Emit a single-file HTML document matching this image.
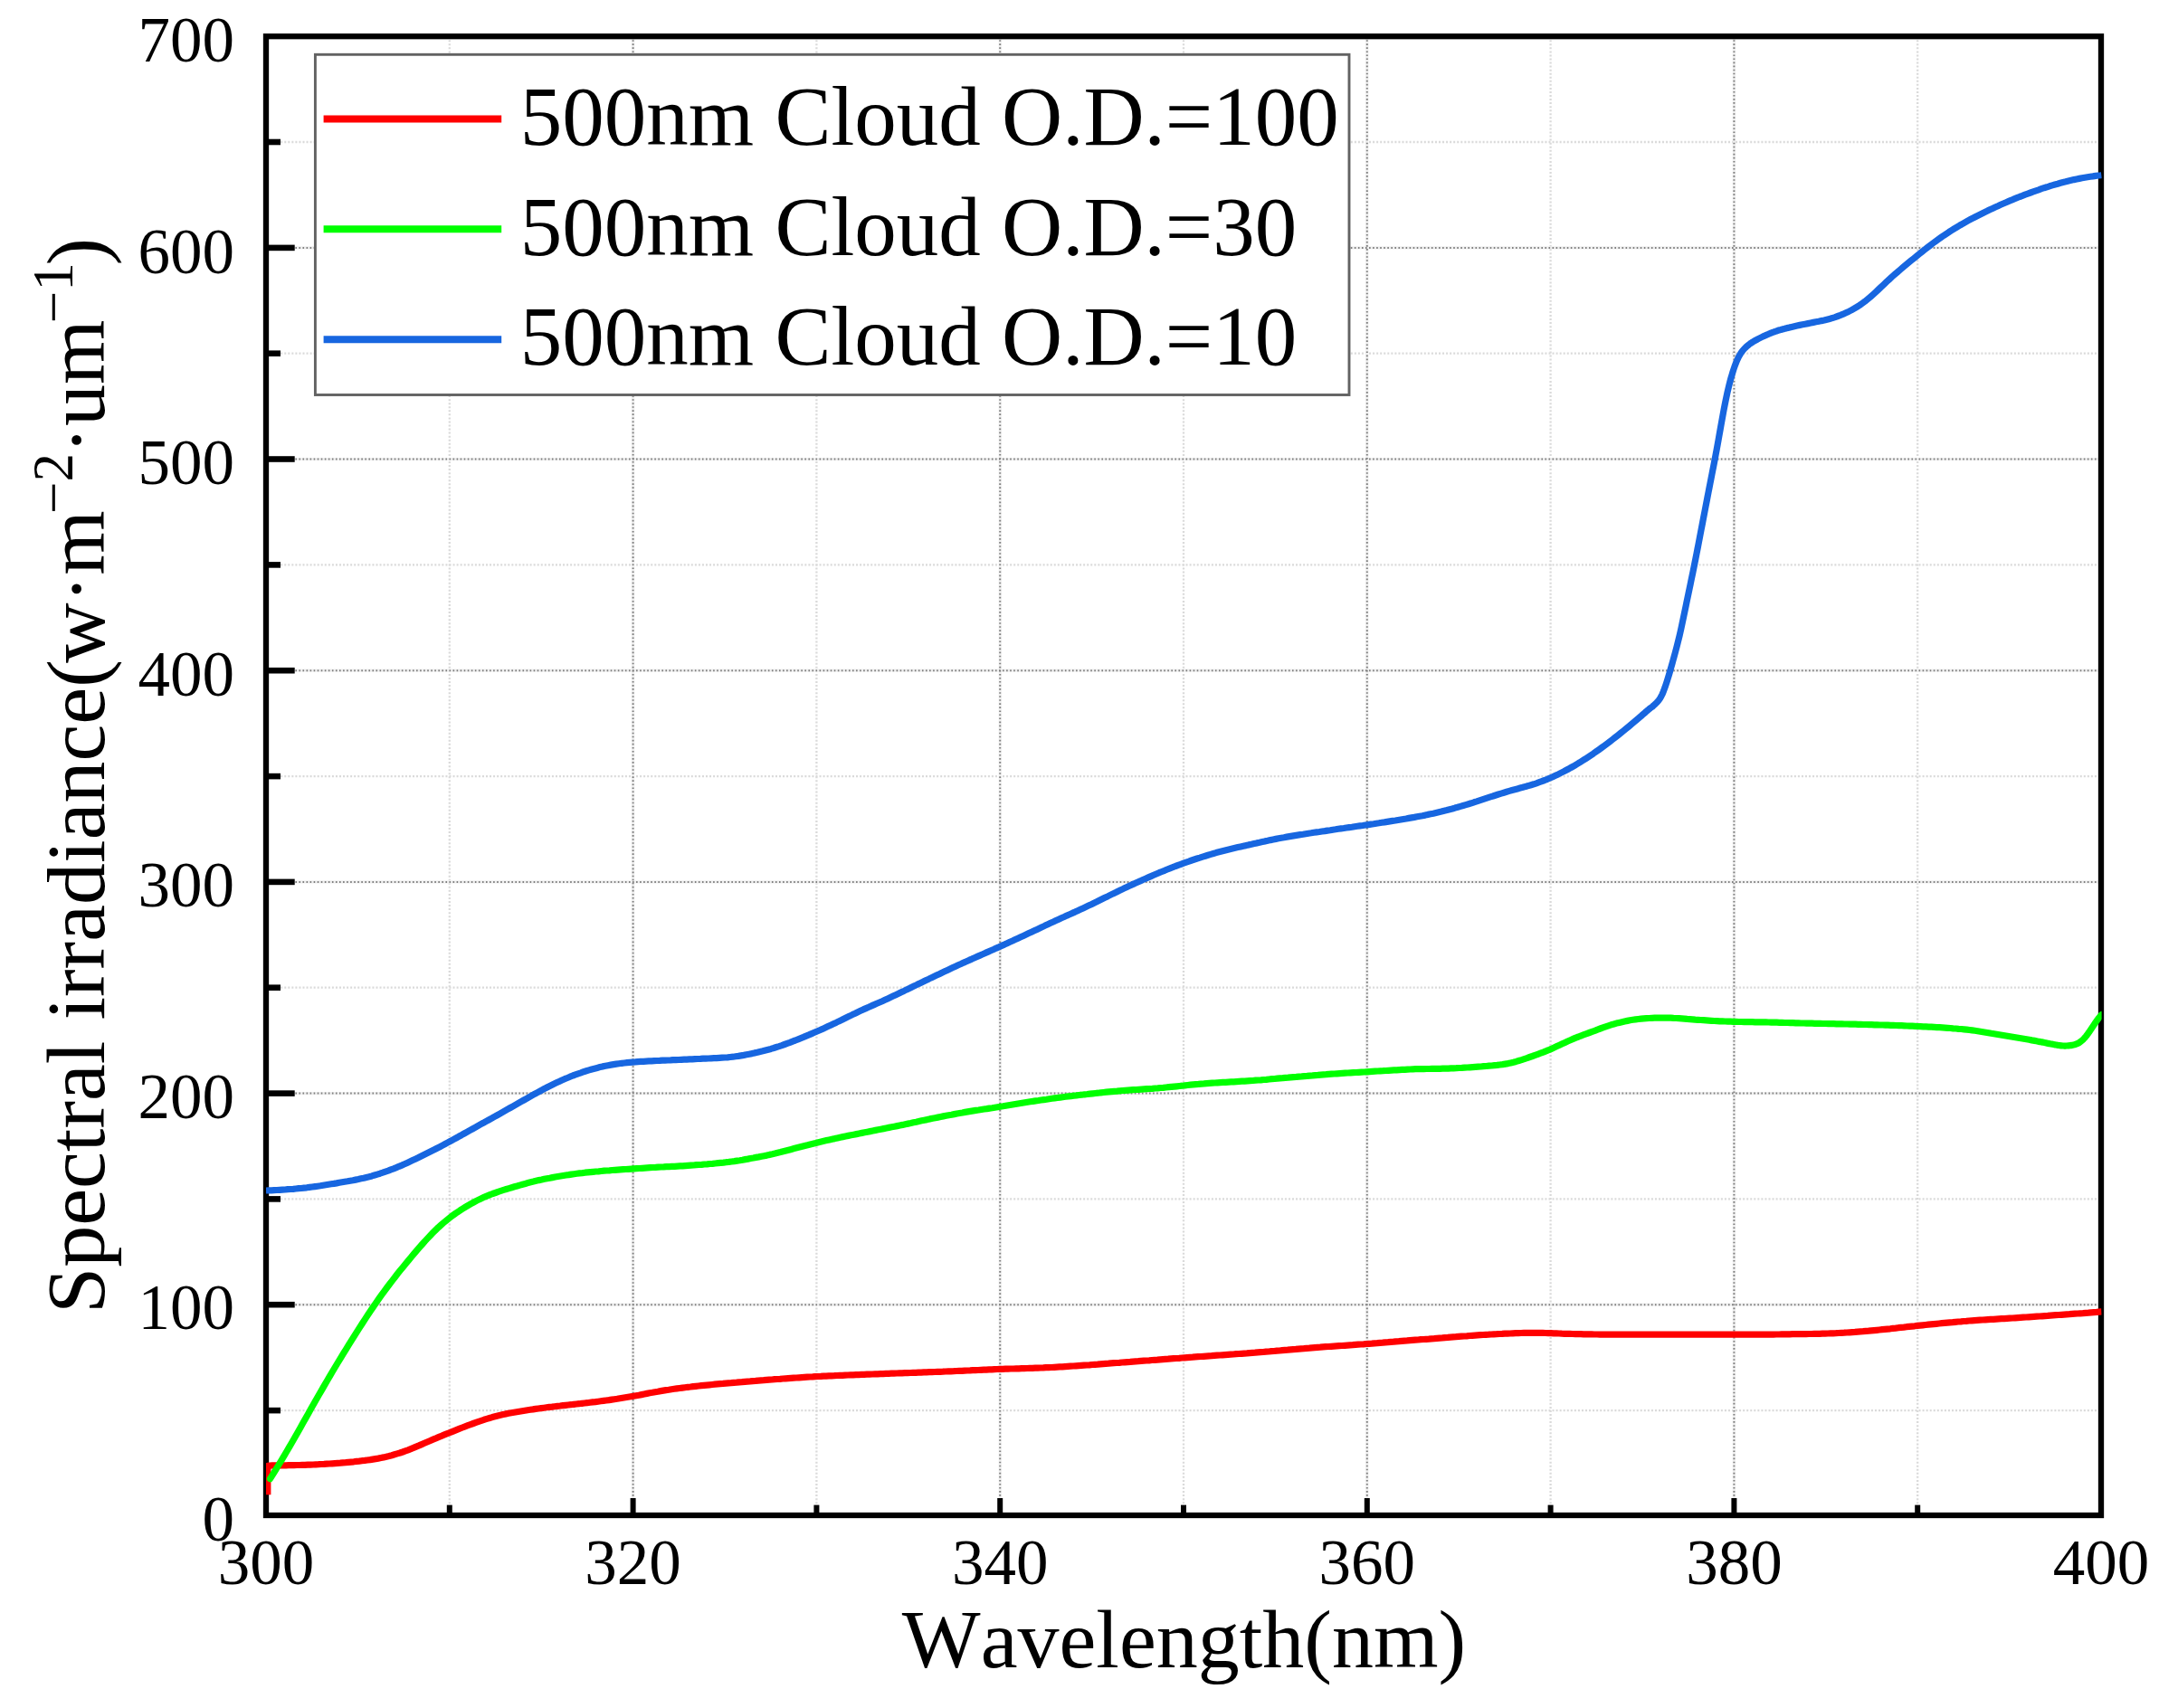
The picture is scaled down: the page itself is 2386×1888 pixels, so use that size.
<!DOCTYPE html>
<html lang="en"><head><meta charset="utf-8"><title>Spectral irradiance vs wavelength</title>
<style>html,body{margin:0;padding:0;background:#fff}svg{display:block}text{font-kerning:none;font-family:"Liberation Serif",serif;fill:#000}</style></head><body>
<svg width="2386" height="1888" viewBox="0 0 2386 1888">
<rect width="2386" height="1888" fill="#fff"/>
<g fill="none">
<g stroke="#dadada" stroke-width="2.3" stroke-dasharray="2 2.05">
<line x1="496.8" y1="40.2" x2="496.8" y2="1675.0"/>
<line x1="902.4" y1="40.2" x2="902.4" y2="1675.0"/>
<line x1="1308.0" y1="40.2" x2="1308.0" y2="1675.0"/>
<line x1="1713.6" y1="40.2" x2="1713.6" y2="1675.0"/>
<line x1="2119.2" y1="40.2" x2="2119.2" y2="1675.0"/>
<line x1="294.0" y1="1559.1" x2="2322.0" y2="1559.1"/>
<line x1="294.0" y1="1325.4" x2="2322.0" y2="1325.4"/>
<line x1="294.0" y1="1091.7" x2="2322.0" y2="1091.7"/>
<line x1="294.0" y1="858.1" x2="2322.0" y2="858.1"/>
<line x1="294.0" y1="624.4" x2="2322.0" y2="624.4"/>
<line x1="294.0" y1="390.7" x2="2322.0" y2="390.7"/>
<line x1="294.0" y1="157.0" x2="2322.0" y2="157.0"/>
</g>
<g stroke="#efefef" stroke-width="3.2">
<line x1="699.6" y1="40.2" x2="699.6" y2="1675.0"/>
<line x1="1105.2" y1="40.2" x2="1105.2" y2="1675.0"/>
<line x1="1510.8" y1="40.2" x2="1510.8" y2="1675.0"/>
<line x1="1916.4" y1="40.2" x2="1916.4" y2="1675.0"/>
<line x1="294.0" y1="1442.2" x2="2322.0" y2="1442.2"/>
<line x1="294.0" y1="1208.6" x2="2322.0" y2="1208.6"/>
<line x1="294.0" y1="974.9" x2="2322.0" y2="974.9"/>
<line x1="294.0" y1="741.2" x2="2322.0" y2="741.2"/>
<line x1="294.0" y1="507.5" x2="2322.0" y2="507.5"/>
<line x1="294.0" y1="273.9" x2="2322.0" y2="273.9"/>
</g>
<g stroke="#808080" stroke-width="2" stroke-dasharray="1.6 2.45">
<line x1="699.6" y1="40.2" x2="699.6" y2="1675.0"/>
<line x1="1105.2" y1="40.2" x2="1105.2" y2="1675.0"/>
<line x1="1510.8" y1="40.2" x2="1510.8" y2="1675.0"/>
<line x1="1916.4" y1="40.2" x2="1916.4" y2="1675.0"/>
<line x1="294.0" y1="1442.2" x2="2322.0" y2="1442.2"/>
<line x1="294.0" y1="1208.6" x2="2322.0" y2="1208.6"/>
<line x1="294.0" y1="974.9" x2="2322.0" y2="974.9"/>
<line x1="294.0" y1="741.2" x2="2322.0" y2="741.2"/>
<line x1="294.0" y1="507.5" x2="2322.0" y2="507.5"/>
<line x1="294.0" y1="273.9" x2="2322.0" y2="273.9"/>
</g></g>
<g stroke="#000" fill="none">
<rect x="294.0" y="40.2" width="2028.0" height="1634.8" stroke-width="6.3"/>
<g stroke-width="6.6">
<line x1="294.0" y1="1559.1" x2="310.0" y2="1559.1"/>
<line x1="294.0" y1="1442.2" x2="325.7" y2="1442.2"/>
<line x1="294.0" y1="1325.4" x2="310.0" y2="1325.4"/>
<line x1="294.0" y1="1208.6" x2="325.7" y2="1208.6"/>
<line x1="294.0" y1="1091.7" x2="310.0" y2="1091.7"/>
<line x1="294.0" y1="974.9" x2="325.7" y2="974.9"/>
<line x1="294.0" y1="858.1" x2="310.0" y2="858.1"/>
<line x1="294.0" y1="741.2" x2="325.7" y2="741.2"/>
<line x1="294.0" y1="624.4" x2="310.0" y2="624.4"/>
<line x1="294.0" y1="507.5" x2="325.7" y2="507.5"/>
<line x1="294.0" y1="390.7" x2="310.0" y2="390.7"/>
<line x1="294.0" y1="273.9" x2="325.7" y2="273.9"/>
<line x1="294.0" y1="157.0" x2="310.0" y2="157.0"/>
</g><g stroke-width="6">
<line x1="496.8" y1="1675.0" x2="496.8" y2="1663.6"/>
<line x1="699.6" y1="1675.0" x2="699.6" y2="1656.0"/>
<line x1="902.4" y1="1675.0" x2="902.4" y2="1663.6"/>
<line x1="1105.2" y1="1675.0" x2="1105.2" y2="1656.0"/>
<line x1="1308.0" y1="1675.0" x2="1308.0" y2="1663.6"/>
<line x1="1510.8" y1="1675.0" x2="1510.8" y2="1656.0"/>
<line x1="1713.6" y1="1675.0" x2="1713.6" y2="1663.6"/>
<line x1="1916.4" y1="1675.0" x2="1916.4" y2="1656.0"/>
<line x1="2119.2" y1="1675.0" x2="2119.2" y2="1663.6"/>
</g></g>
<clipPath id="plot"><rect x="294" y="30" width="2028.6" height="1650"/></clipPath>
<g fill="none" stroke-width="7.2" stroke-linejoin="round" stroke-linecap="butt" clip-path="url(#plot)">
<path d="M295.8 1652.2 L295.8 1620.4 L301.0 1619.8 L304.0 1619.8 L307.0 1619.8 L310.0 1619.8 L313.0 1619.8 L316.0 1619.8 L319.0 1619.7 L322.0 1619.7 L325.0 1619.6 L328.0 1619.5 L331.0 1619.5 L334.0 1619.4 L337.0 1619.3 L340.0 1619.2 L343.0 1619.1 L346.0 1619.0 L349.0 1618.8 L352.0 1618.7 L355.0 1618.5 L358.0 1618.4 L361.0 1618.2 L364.0 1618.0 L367.0 1617.8 L370.0 1617.6 L373.0 1617.4 L376.0 1617.2 L379.0 1616.9 L382.0 1616.7 L385.0 1616.4 L388.0 1616.1 L391.0 1615.8 L394.0 1615.4 L397.0 1615.1 L400.0 1614.7 L403.0 1614.4 L406.0 1614.0 L409.0 1613.6 L412.0 1613.1 L415.0 1612.6 L418.0 1612.1 L421.0 1611.5 L424.0 1610.9 L427.0 1610.2 L430.0 1609.5 L433.0 1608.7 L436.0 1607.8 L439.0 1606.9 L442.0 1606.0 L445.0 1605.0 L448.0 1603.9 L451.0 1602.8 L454.0 1601.6 L457.0 1600.4 L460.0 1599.1 L463.0 1597.9 L466.0 1596.6 L469.0 1595.3 L472.0 1594.0 L475.0 1592.7 L478.0 1591.4 L481.0 1590.2 L484.0 1588.9 L487.0 1587.7 L490.0 1586.4 L493.0 1585.2 L496.0 1584.0 L499.0 1582.8 L502.0 1581.6 L505.0 1580.4 L508.0 1579.2 L511.0 1578.0 L514.0 1576.8 L517.0 1575.7 L520.0 1574.6 L523.0 1573.5 L526.0 1572.4 L529.0 1571.3 L532.0 1570.3 L535.0 1569.3 L538.0 1568.4 L541.0 1567.5 L544.0 1566.6 L547.0 1565.8 L550.0 1565.0 L553.0 1564.3 L556.0 1563.6 L559.0 1562.9 L562.0 1562.3 L565.0 1561.7 L568.0 1561.2 L571.0 1560.7 L574.0 1560.2 L577.0 1559.7 L580.0 1559.2 L583.0 1558.7 L586.0 1558.3 L589.0 1557.9 L592.0 1557.4 L595.0 1557.0 L598.0 1556.6 L601.0 1556.2 L604.0 1555.8 L607.0 1555.4 L610.0 1555.1 L613.0 1554.7 L616.0 1554.3 L619.0 1554.0 L622.0 1553.6 L625.0 1553.3 L628.0 1553.0 L631.0 1552.7 L634.0 1552.3 L637.0 1552.0 L640.0 1551.7 L643.0 1551.3 L646.0 1551.0 L649.0 1550.7 L652.0 1550.3 L655.0 1549.9 L658.0 1549.6 L661.0 1549.2 L664.0 1548.8 L667.0 1548.4 L670.0 1548.0 L673.0 1547.6 L676.0 1547.1 L679.0 1546.7 L682.0 1546.3 L685.0 1545.8 L688.0 1545.3 L691.0 1544.8 L694.0 1544.3 L697.0 1543.8 L700.0 1543.3 L703.0 1542.7 L706.0 1542.2 L709.0 1541.6 L712.0 1541.0 L715.0 1540.4 L718.0 1539.8 L721.0 1539.3 L724.0 1538.7 L727.0 1538.2 L730.0 1537.6 L733.0 1537.1 L736.0 1536.6 L739.0 1536.2 L742.0 1535.7 L745.0 1535.3 L748.0 1534.9 L751.0 1534.5 L754.0 1534.1 L757.0 1533.7 L760.0 1533.3 L763.0 1533.0 L766.0 1532.6 L769.0 1532.3 L772.0 1532.0 L775.0 1531.7 L778.0 1531.4 L781.0 1531.1 L784.0 1530.8 L787.0 1530.5 L790.0 1530.2 L793.0 1529.9 L796.0 1529.6 L799.0 1529.4 L802.0 1529.1 L805.0 1528.8 L808.0 1528.6 L811.0 1528.3 L814.0 1528.1 L817.0 1527.8 L820.0 1527.6 L823.0 1527.3 L826.0 1527.1 L829.0 1526.9 L832.0 1526.6 L835.0 1526.4 L838.0 1526.1 L841.0 1525.9 L844.0 1525.7 L847.0 1525.4 L850.0 1525.2 L853.0 1525.0 L856.0 1524.7 L859.0 1524.5 L862.0 1524.3 L865.0 1524.0 L868.0 1523.8 L871.0 1523.6 L874.0 1523.4 L877.0 1523.2 L880.0 1523.0 L883.0 1522.8 L886.0 1522.6 L889.0 1522.4 L892.0 1522.2 L895.0 1522.0 L898.0 1521.9 L901.0 1521.7 L904.0 1521.5 L907.0 1521.4 L910.0 1521.2 L913.0 1521.1 L916.0 1520.9 L919.0 1520.8 L922.0 1520.7 L925.0 1520.5 L928.0 1520.4 L931.0 1520.3 L934.0 1520.1 L937.0 1520.0 L940.0 1519.9 L943.0 1519.8 L946.0 1519.7 L949.0 1519.6 L952.0 1519.4 L955.0 1519.3 L958.0 1519.2 L961.0 1519.1 L964.0 1519.0 L967.0 1518.9 L970.0 1518.8 L973.0 1518.7 L976.0 1518.6 L979.0 1518.4 L982.0 1518.3 L985.0 1518.2 L988.0 1518.1 L991.0 1518.0 L994.0 1517.9 L997.0 1517.8 L1000.0 1517.7 L1003.0 1517.6 L1006.0 1517.5 L1009.0 1517.4 L1012.0 1517.3 L1015.0 1517.2 L1018.0 1517.1 L1021.0 1516.9 L1024.0 1516.8 L1027.0 1516.7 L1030.0 1516.6 L1033.0 1516.5 L1036.0 1516.4 L1039.0 1516.3 L1042.0 1516.2 L1045.0 1516.0 L1048.0 1515.9 L1051.0 1515.8 L1054.0 1515.7 L1057.0 1515.5 L1060.0 1515.4 L1063.0 1515.3 L1066.0 1515.1 L1069.0 1515.0 L1072.0 1514.9 L1075.0 1514.7 L1078.0 1514.6 L1081.0 1514.5 L1084.0 1514.3 L1087.0 1514.2 L1090.0 1514.1 L1093.0 1513.9 L1096.0 1513.8 L1099.0 1513.6 L1102.0 1513.5 L1105.0 1513.4 L1108.0 1513.3 L1111.0 1513.2 L1114.0 1513.1 L1117.0 1513.0 L1120.0 1513.0 L1123.0 1512.9 L1126.0 1512.8 L1129.0 1512.7 L1132.0 1512.6 L1135.0 1512.5 L1138.0 1512.4 L1141.0 1512.3 L1144.0 1512.2 L1147.0 1512.1 L1150.0 1512.0 L1153.0 1511.9 L1156.0 1511.7 L1159.0 1511.6 L1162.0 1511.5 L1165.0 1511.3 L1168.0 1511.1 L1171.0 1510.9 L1174.0 1510.8 L1177.0 1510.6 L1180.0 1510.4 L1183.0 1510.2 L1186.0 1510.0 L1189.0 1509.8 L1192.0 1509.6 L1195.0 1509.4 L1198.0 1509.2 L1201.0 1509.0 L1204.0 1508.8 L1207.0 1508.5 L1210.0 1508.3 L1213.0 1508.1 L1216.0 1507.8 L1219.0 1507.6 L1222.0 1507.4 L1225.0 1507.2 L1228.0 1506.9 L1231.0 1506.7 L1234.0 1506.5 L1237.0 1506.3 L1240.0 1506.0 L1243.0 1505.8 L1246.0 1505.6 L1249.0 1505.4 L1252.0 1505.1 L1255.0 1504.9 L1258.0 1504.7 L1261.0 1504.4 L1264.0 1504.2 L1267.0 1504.0 L1270.0 1503.8 L1273.0 1503.5 L1276.0 1503.3 L1279.0 1503.1 L1282.0 1502.8 L1285.0 1502.6 L1288.0 1502.4 L1291.0 1502.2 L1294.0 1501.9 L1297.0 1501.7 L1300.0 1501.5 L1303.0 1501.3 L1306.0 1501.0 L1309.0 1500.8 L1312.0 1500.6 L1315.0 1500.4 L1318.0 1500.2 L1321.0 1499.9 L1324.0 1499.7 L1327.0 1499.5 L1330.0 1499.3 L1333.0 1499.1 L1336.0 1498.9 L1339.0 1498.7 L1342.0 1498.4 L1345.0 1498.2 L1348.0 1498.0 L1351.0 1497.8 L1354.0 1497.6 L1357.0 1497.4 L1360.0 1497.2 L1363.0 1497.0 L1366.0 1496.7 L1369.0 1496.5 L1372.0 1496.3 L1375.0 1496.1 L1378.0 1495.9 L1381.0 1495.6 L1384.0 1495.4 L1387.0 1495.2 L1390.0 1494.9 L1393.0 1494.7 L1396.0 1494.5 L1399.0 1494.2 L1402.0 1494.0 L1405.0 1493.7 L1408.0 1493.5 L1411.0 1493.2 L1414.0 1493.0 L1417.0 1492.7 L1420.0 1492.4 L1423.0 1492.2 L1426.0 1491.9 L1429.0 1491.6 L1432.0 1491.4 L1435.0 1491.1 L1438.0 1490.8 L1441.0 1490.6 L1444.0 1490.3 L1447.0 1490.1 L1450.0 1489.8 L1453.0 1489.6 L1456.0 1489.4 L1459.0 1489.2 L1462.0 1488.9 L1465.0 1488.7 L1468.0 1488.5 L1471.0 1488.3 L1474.0 1488.1 L1477.0 1487.9 L1480.0 1487.7 L1483.0 1487.5 L1486.0 1487.3 L1489.0 1487.1 L1492.0 1486.9 L1495.0 1486.7 L1498.0 1486.4 L1501.0 1486.2 L1504.0 1486.0 L1507.0 1485.8 L1510.0 1485.5 L1513.0 1485.3 L1516.0 1485.1 L1519.0 1484.8 L1522.0 1484.6 L1525.0 1484.3 L1528.0 1484.1 L1531.0 1483.8 L1534.0 1483.6 L1537.0 1483.3 L1540.0 1483.1 L1543.0 1482.8 L1546.0 1482.6 L1549.0 1482.3 L1552.0 1482.1 L1555.0 1481.9 L1558.0 1481.6 L1561.0 1481.4 L1564.0 1481.2 L1567.0 1481.0 L1570.0 1480.7 L1573.0 1480.5 L1576.0 1480.3 L1579.0 1480.1 L1582.0 1479.8 L1585.0 1479.6 L1588.0 1479.3 L1591.0 1479.1 L1594.0 1478.9 L1597.0 1478.6 L1600.0 1478.4 L1603.0 1478.1 L1606.0 1477.9 L1609.0 1477.7 L1612.0 1477.4 L1615.0 1477.2 L1618.0 1477.0 L1621.0 1476.8 L1624.0 1476.5 L1627.0 1476.3 L1630.0 1476.1 L1633.0 1475.9 L1636.0 1475.7 L1639.0 1475.5 L1642.0 1475.3 L1645.0 1475.2 L1648.0 1475.0 L1651.0 1474.8 L1654.0 1474.7 L1657.0 1474.5 L1660.0 1474.4 L1663.0 1474.2 L1666.0 1474.1 L1669.0 1474.0 L1672.0 1473.8 L1675.0 1473.7 L1678.0 1473.6 L1681.0 1473.5 L1684.0 1473.4 L1687.0 1473.4 L1690.0 1473.3 L1693.0 1473.3 L1696.0 1473.3 L1699.0 1473.3 L1702.0 1473.4 L1705.0 1473.4 L1708.0 1473.5 L1711.0 1473.6 L1714.0 1473.7 L1717.0 1473.8 L1720.0 1473.9 L1723.0 1474.0 L1726.0 1474.2 L1729.0 1474.3 L1732.0 1474.4 L1735.0 1474.4 L1738.0 1474.5 L1741.0 1474.6 L1744.0 1474.7 L1747.0 1474.7 L1750.0 1474.8 L1753.0 1474.9 L1756.0 1474.9 L1759.0 1474.9 L1762.0 1475.0 L1765.0 1475.0 L1768.0 1475.1 L1771.0 1475.1 L1774.0 1475.1 L1777.0 1475.1 L1780.0 1475.1 L1783.0 1475.2 L1786.0 1475.2 L1789.0 1475.2 L1792.0 1475.2 L1795.0 1475.2 L1798.0 1475.2 L1801.0 1475.2 L1804.0 1475.2 L1807.0 1475.2 L1810.0 1475.2 L1813.0 1475.2 L1816.0 1475.2 L1819.0 1475.2 L1822.0 1475.2 L1825.0 1475.2 L1828.0 1475.2 L1831.0 1475.2 L1834.0 1475.2 L1837.0 1475.2 L1840.0 1475.2 L1843.0 1475.2 L1846.0 1475.2 L1849.0 1475.1 L1852.0 1475.1 L1855.0 1475.1 L1858.0 1475.1 L1861.0 1475.1 L1864.0 1475.1 L1867.0 1475.1 L1870.0 1475.1 L1873.0 1475.1 L1876.0 1475.1 L1879.0 1475.1 L1882.0 1475.1 L1885.0 1475.1 L1888.0 1475.1 L1891.0 1475.1 L1894.0 1475.1 L1897.0 1475.1 L1900.0 1475.1 L1903.0 1475.1 L1906.0 1475.1 L1909.0 1475.1 L1912.0 1475.2 L1915.0 1475.2 L1918.0 1475.2 L1921.0 1475.2 L1924.0 1475.2 L1927.0 1475.2 L1930.0 1475.2 L1933.0 1475.2 L1936.0 1475.2 L1939.0 1475.2 L1942.0 1475.2 L1945.0 1475.2 L1948.0 1475.2 L1951.0 1475.2 L1954.0 1475.1 L1957.0 1475.1 L1960.0 1475.1 L1963.0 1475.0 L1966.0 1475.0 L1969.0 1474.9 L1972.0 1474.9 L1975.0 1474.8 L1978.0 1474.8 L1981.0 1474.7 L1984.0 1474.7 L1987.0 1474.7 L1990.0 1474.6 L1993.0 1474.6 L1996.0 1474.6 L1999.0 1474.5 L2002.0 1474.5 L2005.0 1474.4 L2008.0 1474.4 L2011.0 1474.3 L2014.0 1474.2 L2017.0 1474.2 L2020.0 1474.0 L2023.0 1473.9 L2026.0 1473.8 L2029.0 1473.7 L2032.0 1473.5 L2035.0 1473.3 L2038.0 1473.2 L2041.0 1473.0 L2044.0 1472.8 L2047.0 1472.6 L2050.0 1472.4 L2053.0 1472.1 L2056.0 1471.9 L2059.0 1471.7 L2062.0 1471.4 L2065.0 1471.2 L2068.0 1470.9 L2071.0 1470.6 L2074.0 1470.3 L2077.0 1470.0 L2080.0 1469.7 L2083.0 1469.4 L2086.0 1469.1 L2089.0 1468.8 L2092.0 1468.4 L2095.0 1468.1 L2098.0 1467.7 L2101.0 1467.4 L2104.0 1467.1 L2107.0 1466.7 L2110.0 1466.4 L2113.0 1466.1 L2116.0 1465.8 L2119.0 1465.4 L2122.0 1465.1 L2125.0 1464.8 L2128.0 1464.5 L2131.0 1464.2 L2134.0 1463.9 L2137.0 1463.6 L2140.0 1463.3 L2143.0 1463.0 L2146.0 1462.7 L2149.0 1462.4 L2152.0 1462.1 L2155.0 1461.8 L2158.0 1461.6 L2161.0 1461.3 L2164.0 1461.0 L2167.0 1460.8 L2170.0 1460.5 L2173.0 1460.3 L2176.0 1460.0 L2179.0 1459.8 L2182.0 1459.6 L2185.0 1459.4 L2188.0 1459.2 L2191.0 1459.0 L2194.0 1458.8 L2197.0 1458.6 L2200.0 1458.4 L2203.0 1458.3 L2206.0 1458.1 L2209.0 1457.9 L2212.0 1457.7 L2215.0 1457.6 L2218.0 1457.4 L2221.0 1457.2 L2224.0 1457.0 L2227.0 1456.8 L2230.0 1456.6 L2233.0 1456.4 L2236.0 1456.2 L2239.0 1456.0 L2242.0 1455.8 L2245.0 1455.6 L2248.0 1455.4 L2251.0 1455.2 L2254.0 1455.0 L2257.0 1454.8 L2260.0 1454.6 L2263.0 1454.4 L2266.0 1454.1 L2269.0 1453.9 L2272.0 1453.7 L2275.0 1453.5 L2278.0 1453.3 L2281.0 1453.1 L2284.0 1452.9 L2287.0 1452.7 L2290.0 1452.4 L2293.0 1452.2 L2296.0 1452.0 L2299.0 1451.8 L2302.0 1451.6 L2305.0 1451.3 L2308.0 1451.1 L2311.0 1450.8 L2314.0 1450.6 L2317.0 1450.4 L2320.0 1450.1 L2322.5 1449.9" stroke="#ff0000"/>
<path d="M298.5 1634.7 L301.5 1629.8 L304.5 1625.0 L307.5 1620.0 L310.5 1615.1 L313.5 1610.1 L316.5 1605.0 L319.5 1599.9 L322.5 1594.7 L325.5 1589.5 L328.5 1584.2 L331.5 1578.9 L334.5 1573.6 L337.5 1568.2 L340.5 1562.9 L343.5 1557.6 L346.5 1552.3 L349.5 1547.0 L352.5 1541.8 L355.5 1536.6 L358.5 1531.4 L361.5 1526.2 L364.5 1521.1 L367.5 1516.0 L370.5 1511.0 L373.5 1506.0 L376.5 1501.1 L379.5 1496.1 L382.5 1491.3 L385.5 1486.4 L388.5 1481.6 L391.5 1476.8 L394.5 1472.1 L397.5 1467.4 L400.5 1462.7 L403.5 1458.1 L406.5 1453.5 L409.5 1449.0 L412.5 1444.6 L415.5 1440.2 L418.5 1435.9 L421.5 1431.7 L424.5 1427.6 L427.5 1423.5 L430.5 1419.5 L433.5 1415.6 L436.5 1411.7 L439.5 1407.8 L442.5 1404.1 L445.5 1400.4 L448.5 1396.7 L451.5 1393.1 L454.5 1389.5 L457.5 1385.9 L460.5 1382.4 L463.5 1378.9 L466.5 1375.5 L469.5 1372.1 L472.5 1368.9 L475.5 1365.7 L478.5 1362.6 L481.5 1359.6 L484.5 1356.7 L487.5 1354.0 L490.5 1351.4 L493.5 1348.9 L496.5 1346.5 L499.5 1344.2 L502.5 1342.0 L505.5 1339.9 L508.5 1337.9 L511.5 1336.0 L514.5 1334.1 L517.5 1332.3 L520.5 1330.6 L523.5 1329.0 L526.5 1327.4 L529.5 1325.9 L532.5 1324.5 L535.5 1323.1 L538.5 1321.9 L541.5 1320.7 L544.5 1319.5 L547.5 1318.5 L550.5 1317.4 L553.5 1316.4 L556.5 1315.4 L559.5 1314.5 L562.5 1313.6 L565.5 1312.7 L568.5 1311.8 L571.5 1311.0 L574.5 1310.1 L577.5 1309.2 L580.5 1308.4 L583.5 1307.6 L586.5 1306.8 L589.5 1306.1 L592.5 1305.3 L595.5 1304.6 L598.5 1304.0 L601.5 1303.3 L604.5 1302.7 L607.5 1302.2 L610.5 1301.6 L613.5 1301.0 L616.5 1300.5 L619.5 1300.0 L622.5 1299.5 L625.5 1299.0 L628.5 1298.6 L631.5 1298.1 L634.5 1297.7 L637.5 1297.3 L640.5 1296.9 L643.5 1296.6 L646.5 1296.2 L649.5 1295.9 L652.5 1295.6 L655.5 1295.3 L658.5 1295.0 L661.5 1294.8 L664.5 1294.5 L667.5 1294.2 L670.5 1294.0 L673.5 1293.8 L676.5 1293.5 L679.5 1293.3 L682.5 1293.1 L685.5 1292.9 L688.5 1292.7 L691.5 1292.5 L694.5 1292.3 L697.5 1292.1 L700.5 1291.9 L703.5 1291.7 L706.5 1291.5 L709.5 1291.3 L712.5 1291.1 L715.5 1290.9 L718.5 1290.7 L721.5 1290.5 L724.5 1290.4 L727.5 1290.2 L730.5 1290.0 L733.5 1289.9 L736.5 1289.7 L739.5 1289.6 L742.5 1289.4 L745.5 1289.3 L748.5 1289.1 L751.5 1288.9 L754.5 1288.8 L757.5 1288.6 L760.5 1288.4 L763.5 1288.2 L766.5 1288.0 L769.5 1287.7 L772.5 1287.5 L775.5 1287.3 L778.5 1287.0 L781.5 1286.8 L784.5 1286.5 L787.5 1286.3 L790.5 1286.0 L793.5 1285.7 L796.5 1285.4 L799.5 1285.1 L802.5 1284.7 L805.5 1284.4 L808.5 1284.0 L811.5 1283.6 L814.5 1283.1 L817.5 1282.7 L820.5 1282.2 L823.5 1281.6 L826.5 1281.1 L829.5 1280.5 L832.5 1280.0 L835.5 1279.4 L838.5 1278.9 L841.5 1278.3 L844.5 1277.7 L847.5 1277.1 L850.5 1276.4 L853.5 1275.8 L856.5 1275.1 L859.5 1274.3 L862.5 1273.6 L865.5 1272.8 L868.5 1272.0 L871.5 1271.2 L874.5 1270.4 L877.5 1269.6 L880.5 1268.8 L883.5 1268.0 L886.5 1267.2 L889.5 1266.4 L892.5 1265.7 L895.5 1264.9 L898.5 1264.2 L901.5 1263.5 L904.5 1262.7 L907.5 1262.0 L910.5 1261.3 L913.5 1260.6 L916.5 1259.9 L919.5 1259.2 L922.5 1258.6 L925.5 1257.9 L928.5 1257.2 L931.5 1256.6 L934.5 1256.0 L937.5 1255.4 L940.5 1254.8 L943.5 1254.2 L946.5 1253.6 L949.5 1253.0 L952.5 1252.4 L955.5 1251.8 L958.5 1251.2 L961.5 1250.6 L964.5 1250.0 L967.5 1249.4 L970.5 1248.8 L973.5 1248.2 L976.5 1247.6 L979.5 1247.0 L982.5 1246.4 L985.5 1245.8 L988.5 1245.2 L991.5 1244.6 L994.5 1244.0 L997.5 1243.4 L1000.5 1242.7 L1003.5 1242.1 L1006.5 1241.5 L1009.5 1240.8 L1012.5 1240.2 L1015.5 1239.5 L1018.5 1238.8 L1021.5 1238.2 L1024.5 1237.6 L1027.5 1236.9 L1030.5 1236.3 L1033.5 1235.7 L1036.5 1235.1 L1039.5 1234.5 L1042.5 1233.9 L1045.5 1233.3 L1048.5 1232.7 L1051.5 1232.2 L1054.5 1231.6 L1057.5 1231.0 L1060.5 1230.5 L1063.5 1230.0 L1066.5 1229.4 L1069.5 1228.9 L1072.5 1228.4 L1075.5 1227.9 L1078.5 1227.4 L1081.5 1227.0 L1084.5 1226.5 L1087.5 1226.0 L1090.5 1225.6 L1093.5 1225.1 L1096.5 1224.7 L1099.5 1224.2 L1102.5 1223.7 L1105.5 1223.2 L1108.5 1222.8 L1111.5 1222.3 L1114.5 1221.8 L1117.5 1221.3 L1120.5 1220.8 L1123.5 1220.3 L1126.5 1219.8 L1129.5 1219.3 L1132.5 1218.8 L1135.5 1218.3 L1138.5 1217.8 L1141.5 1217.4 L1144.5 1216.9 L1147.5 1216.5 L1150.5 1216.0 L1153.5 1215.6 L1156.5 1215.2 L1159.5 1214.7 L1162.5 1214.3 L1165.5 1213.9 L1168.5 1213.5 L1171.5 1213.1 L1174.5 1212.7 L1177.5 1212.3 L1180.5 1211.9 L1183.5 1211.6 L1186.5 1211.2 L1189.5 1210.9 L1192.5 1210.5 L1195.5 1210.2 L1198.5 1209.8 L1201.5 1209.5 L1204.5 1209.1 L1207.5 1208.8 L1210.5 1208.5 L1213.5 1208.2 L1216.5 1207.8 L1219.5 1207.5 L1222.5 1207.2 L1225.5 1206.9 L1228.5 1206.6 L1231.5 1206.3 L1234.5 1206.1 L1237.5 1205.8 L1240.5 1205.5 L1243.5 1205.3 L1246.5 1205.1 L1249.5 1204.9 L1252.5 1204.7 L1255.5 1204.5 L1258.5 1204.3 L1261.5 1204.1 L1264.5 1203.9 L1267.5 1203.7 L1270.5 1203.5 L1273.5 1203.3 L1276.5 1203.0 L1279.5 1202.8 L1282.5 1202.5 L1285.5 1202.3 L1288.5 1202.0 L1291.5 1201.7 L1294.5 1201.4 L1297.5 1201.1 L1300.5 1200.8 L1303.5 1200.5 L1306.5 1200.2 L1309.5 1199.8 L1312.5 1199.5 L1315.5 1199.2 L1318.5 1198.9 L1321.5 1198.6 L1324.5 1198.4 L1327.5 1198.1 L1330.5 1197.9 L1333.5 1197.6 L1336.5 1197.4 L1339.5 1197.2 L1342.5 1197.0 L1345.5 1196.8 L1348.5 1196.6 L1351.5 1196.4 L1354.5 1196.3 L1357.5 1196.1 L1360.5 1195.9 L1363.5 1195.8 L1366.5 1195.6 L1369.5 1195.4 L1372.5 1195.2 L1375.5 1195.1 L1378.5 1194.9 L1381.5 1194.7 L1384.5 1194.5 L1387.5 1194.2 L1390.5 1194.0 L1393.5 1193.8 L1396.5 1193.5 L1399.5 1193.3 L1402.5 1193.0 L1405.5 1192.7 L1408.5 1192.5 L1411.5 1192.2 L1414.5 1191.9 L1417.5 1191.7 L1420.5 1191.4 L1423.5 1191.2 L1426.5 1190.9 L1429.5 1190.6 L1432.5 1190.4 L1435.5 1190.1 L1438.5 1189.9 L1441.5 1189.6 L1444.5 1189.4 L1447.5 1189.1 L1450.5 1188.9 L1453.5 1188.6 L1456.5 1188.4 L1459.5 1188.1 L1462.5 1187.9 L1465.5 1187.7 L1468.5 1187.4 L1471.5 1187.2 L1474.5 1187.0 L1477.5 1186.8 L1480.5 1186.6 L1483.5 1186.4 L1486.5 1186.2 L1489.5 1186.0 L1492.5 1185.8 L1495.5 1185.6 L1498.5 1185.5 L1501.5 1185.3 L1504.5 1185.1 L1507.5 1185.0 L1510.5 1184.8 L1513.5 1184.6 L1516.5 1184.4 L1519.5 1184.2 L1522.5 1184.0 L1525.5 1183.8 L1528.5 1183.7 L1531.5 1183.5 L1534.5 1183.3 L1537.5 1183.1 L1540.5 1182.9 L1543.5 1182.8 L1546.5 1182.6 L1549.5 1182.4 L1552.5 1182.3 L1555.5 1182.1 L1558.5 1182.0 L1561.5 1181.8 L1564.5 1181.7 L1567.5 1181.7 L1570.5 1181.6 L1573.5 1181.6 L1576.5 1181.5 L1579.5 1181.5 L1582.5 1181.4 L1585.5 1181.4 L1588.5 1181.4 L1591.5 1181.3 L1594.5 1181.2 L1597.5 1181.2 L1600.5 1181.1 L1603.5 1180.9 L1606.5 1180.8 L1609.5 1180.7 L1612.5 1180.5 L1615.5 1180.4 L1618.5 1180.2 L1621.5 1180.0 L1624.5 1179.8 L1627.5 1179.6 L1630.5 1179.4 L1633.5 1179.2 L1636.5 1179.0 L1639.5 1178.7 L1642.5 1178.5 L1645.5 1178.2 L1648.5 1178.0 L1651.5 1177.7 L1654.5 1177.4 L1657.5 1177.0 L1660.5 1176.6 L1663.5 1176.1 L1666.5 1175.6 L1669.5 1174.9 L1672.5 1174.2 L1675.5 1173.4 L1678.5 1172.5 L1681.5 1171.6 L1684.5 1170.6 L1687.5 1169.6 L1690.5 1168.5 L1693.5 1167.5 L1696.5 1166.4 L1699.5 1165.3 L1702.5 1164.2 L1705.5 1163.1 L1708.5 1161.9 L1711.5 1160.7 L1714.5 1159.4 L1717.5 1158.0 L1720.5 1156.6 L1723.5 1155.2 L1726.5 1153.8 L1729.5 1152.4 L1732.5 1151.0 L1735.5 1149.7 L1738.5 1148.4 L1741.5 1147.1 L1744.5 1146.0 L1747.5 1144.8 L1750.5 1143.7 L1753.5 1142.6 L1756.5 1141.5 L1759.5 1140.4 L1762.5 1139.3 L1765.5 1138.1 L1768.5 1137.0 L1771.5 1135.9 L1774.5 1134.8 L1777.5 1133.8 L1780.5 1132.8 L1783.5 1132.0 L1786.5 1131.1 L1789.5 1130.4 L1792.5 1129.7 L1795.5 1129.0 L1798.5 1128.4 L1801.5 1127.8 L1804.5 1127.3 L1807.5 1126.9 L1810.5 1126.5 L1813.5 1126.2 L1816.5 1125.9 L1819.5 1125.7 L1822.5 1125.5 L1825.5 1125.3 L1828.5 1125.2 L1831.5 1125.1 L1834.5 1125.1 L1837.5 1125.1 L1840.5 1125.1 L1843.5 1125.1 L1846.5 1125.2 L1849.5 1125.4 L1852.5 1125.5 L1855.5 1125.7 L1858.5 1125.9 L1861.5 1126.1 L1864.5 1126.4 L1867.5 1126.6 L1870.5 1126.8 L1873.5 1127.1 L1876.5 1127.3 L1879.5 1127.5 L1882.5 1127.7 L1885.5 1127.9 L1888.5 1128.1 L1891.5 1128.3 L1894.5 1128.5 L1897.5 1128.6 L1900.5 1128.8 L1903.5 1128.9 L1906.5 1129.0 L1909.5 1129.1 L1912.5 1129.2 L1915.5 1129.3 L1918.5 1129.4 L1921.5 1129.5 L1924.5 1129.5 L1927.5 1129.6 L1930.5 1129.6 L1933.5 1129.7 L1936.5 1129.7 L1939.5 1129.8 L1942.5 1129.8 L1945.5 1129.8 L1948.5 1129.9 L1951.5 1129.9 L1954.5 1130.0 L1957.5 1130.1 L1960.5 1130.1 L1963.5 1130.2 L1966.5 1130.3 L1969.5 1130.4 L1972.5 1130.5 L1975.5 1130.5 L1978.5 1130.6 L1981.5 1130.7 L1984.5 1130.8 L1987.5 1130.9 L1990.5 1131.0 L1993.5 1131.0 L1996.5 1131.1 L1999.5 1131.2 L2002.5 1131.2 L2005.5 1131.3 L2008.5 1131.4 L2011.5 1131.4 L2014.5 1131.5 L2017.5 1131.5 L2020.5 1131.6 L2023.5 1131.7 L2026.5 1131.7 L2029.5 1131.8 L2032.5 1131.8 L2035.5 1131.9 L2038.5 1132.0 L2041.5 1132.0 L2044.5 1132.1 L2047.5 1132.2 L2050.5 1132.2 L2053.5 1132.3 L2056.5 1132.4 L2059.5 1132.5 L2062.5 1132.5 L2065.5 1132.6 L2068.5 1132.7 L2071.5 1132.8 L2074.5 1132.9 L2077.5 1133.0 L2080.5 1133.0 L2083.5 1133.1 L2086.5 1133.2 L2089.5 1133.3 L2092.5 1133.4 L2095.5 1133.5 L2098.5 1133.6 L2101.5 1133.7 L2104.5 1133.8 L2107.5 1134.0 L2110.5 1134.1 L2113.5 1134.2 L2116.5 1134.3 L2119.5 1134.5 L2122.5 1134.6 L2125.5 1134.8 L2128.5 1134.9 L2131.5 1135.1 L2134.5 1135.2 L2137.5 1135.4 L2140.5 1135.6 L2143.5 1135.7 L2146.5 1135.9 L2149.5 1136.1 L2152.5 1136.3 L2155.5 1136.5 L2158.5 1136.8 L2161.5 1137.0 L2164.5 1137.3 L2167.5 1137.5 L2170.5 1137.8 L2173.5 1138.1 L2176.5 1138.5 L2179.5 1138.9 L2182.5 1139.3 L2185.5 1139.7 L2188.5 1140.2 L2191.5 1140.7 L2194.5 1141.2 L2197.5 1141.7 L2200.5 1142.3 L2203.5 1142.8 L2206.5 1143.3 L2209.5 1143.8 L2212.5 1144.3 L2215.5 1144.8 L2218.5 1145.3 L2221.5 1145.8 L2224.5 1146.3 L2227.5 1146.8 L2230.5 1147.3 L2233.5 1147.8 L2236.5 1148.3 L2239.5 1148.8 L2242.5 1149.3 L2245.5 1149.9 L2248.5 1150.4 L2250.5 1150.8 L2251.5 1151.0 L2252.5 1151.2 L2253.5 1151.4 L2254.5 1151.6 L2255.5 1151.7 L2256.5 1151.9 L2257.5 1152.1 L2258.5 1152.3 L2259.5 1152.5 L2260.5 1152.7 L2261.5 1152.9 L2262.5 1153.2 L2263.5 1153.4 L2264.5 1153.6 L2265.5 1153.8 L2266.5 1154.0 L2267.5 1154.1 L2268.5 1154.3 L2269.5 1154.5 L2270.5 1154.7 L2271.5 1154.9 L2272.5 1155.0 L2273.5 1155.2 L2274.5 1155.4 L2275.5 1155.5 L2276.5 1155.7 L2277.5 1155.8 L2278.5 1155.9 L2279.5 1156.0 L2280.5 1156.0 L2281.5 1156.1 L2282.5 1156.1 L2283.5 1156.0 L2284.5 1156.0 L2285.5 1155.9 L2286.5 1155.8 L2287.5 1155.7 L2288.5 1155.6 L2289.5 1155.4 L2290.5 1155.2 L2291.5 1155.0 L2292.5 1154.8 L2293.5 1154.5 L2294.5 1154.1 L2295.5 1153.7 L2296.5 1153.2 L2297.5 1152.7 L2298.5 1152.0 L2299.5 1151.3 L2300.5 1150.5 L2301.5 1149.6 L2302.5 1148.7 L2303.5 1147.6 L2304.5 1146.5 L2305.5 1145.3 L2306.5 1144.0 L2307.5 1142.6 L2308.5 1141.2 L2309.5 1139.7 L2310.5 1138.2 L2311.5 1136.7 L2312.5 1135.2 L2313.5 1133.7 L2314.5 1132.2 L2315.5 1130.7 L2316.5 1129.3 L2317.5 1127.9 L2318.5 1126.5 L2319.5 1125.2 L2320.5 1124.0 L2321.5 1122.7 L2322.5 1121.5" stroke="#00ff00" stroke-linecap="round"/>
<path d="M294.0 1316.0 L297.0 1315.9 L300.0 1315.8 L303.0 1315.6 L306.0 1315.5 L309.0 1315.3 L312.0 1315.1 L315.0 1315.0 L318.0 1314.7 L321.0 1314.5 L324.0 1314.3 L327.0 1314.0 L330.0 1313.7 L333.0 1313.5 L336.0 1313.1 L339.0 1312.8 L342.0 1312.4 L345.0 1312.0 L348.0 1311.6 L351.0 1311.2 L354.0 1310.8 L357.0 1310.3 L360.0 1309.8 L363.0 1309.3 L366.0 1308.8 L369.0 1308.4 L372.0 1307.9 L375.0 1307.3 L378.0 1306.8 L381.0 1306.3 L384.0 1305.8 L387.0 1305.2 L390.0 1304.7 L393.0 1304.1 L396.0 1303.5 L399.0 1302.8 L402.0 1302.2 L405.0 1301.4 L408.0 1300.7 L411.0 1299.9 L414.0 1299.0 L417.0 1298.1 L420.0 1297.2 L423.0 1296.2 L426.0 1295.1 L429.0 1294.1 L432.0 1292.9 L435.0 1291.8 L438.0 1290.6 L441.0 1289.3 L444.0 1288.1 L447.0 1286.8 L450.0 1285.4 L453.0 1284.0 L456.0 1282.6 L459.0 1281.2 L462.0 1279.8 L465.0 1278.3 L468.0 1276.8 L471.0 1275.3 L474.0 1273.8 L477.0 1272.3 L480.0 1270.8 L483.0 1269.2 L486.0 1267.7 L489.0 1266.1 L492.0 1264.5 L495.0 1262.9 L498.0 1261.3 L501.0 1259.6 L504.0 1258.0 L507.0 1256.3 L510.0 1254.7 L513.0 1253.0 L516.0 1251.3 L519.0 1249.6 L522.0 1248.0 L525.0 1246.3 L528.0 1244.6 L531.0 1242.9 L534.0 1241.3 L537.0 1239.6 L540.0 1238.0 L543.0 1236.3 L546.0 1234.6 L549.0 1233.0 L552.0 1231.3 L555.0 1229.6 L558.0 1227.9 L561.0 1226.2 L564.0 1224.5 L567.0 1222.8 L570.0 1221.1 L573.0 1219.4 L576.0 1217.7 L579.0 1216.0 L582.0 1214.3 L585.0 1212.6 L588.0 1210.9 L591.0 1209.2 L594.0 1207.6 L597.0 1206.0 L600.0 1204.3 L603.0 1202.8 L606.0 1201.2 L609.0 1199.7 L612.0 1198.2 L615.0 1196.8 L618.0 1195.4 L621.0 1194.0 L624.0 1192.7 L627.0 1191.5 L630.0 1190.2 L633.0 1189.0 L636.0 1187.9 L639.0 1186.8 L642.0 1185.8 L645.0 1184.7 L648.0 1183.8 L651.0 1182.9 L654.0 1182.0 L657.0 1181.2 L660.0 1180.4 L663.0 1179.6 L666.0 1178.9 L669.0 1178.3 L672.0 1177.7 L675.0 1177.1 L678.0 1176.6 L681.0 1176.1 L684.0 1175.7 L687.0 1175.3 L690.0 1175.0 L693.0 1174.7 L696.0 1174.4 L699.0 1174.1 L702.0 1173.9 L705.0 1173.6 L708.0 1173.4 L711.0 1173.3 L714.0 1173.1 L717.0 1172.9 L720.0 1172.8 L723.0 1172.6 L726.0 1172.5 L729.0 1172.4 L732.0 1172.2 L735.0 1172.1 L738.0 1172.0 L741.0 1171.9 L744.0 1171.7 L747.0 1171.6 L750.0 1171.5 L753.0 1171.3 L756.0 1171.2 L759.0 1171.1 L762.0 1170.9 L765.0 1170.8 L768.0 1170.6 L771.0 1170.5 L774.0 1170.4 L777.0 1170.2 L780.0 1170.1 L783.0 1170.0 L786.0 1169.8 L789.0 1169.7 L792.0 1169.6 L795.0 1169.4 L798.0 1169.2 L801.0 1169.0 L804.0 1168.8 L807.0 1168.5 L810.0 1168.2 L813.0 1167.8 L816.0 1167.4 L819.0 1166.9 L822.0 1166.4 L825.0 1165.8 L828.0 1165.2 L831.0 1164.6 L834.0 1163.9 L837.0 1163.3 L840.0 1162.5 L843.0 1161.8 L846.0 1161.0 L849.0 1160.2 L852.0 1159.4 L855.0 1158.5 L858.0 1157.5 L861.0 1156.6 L864.0 1155.6 L867.0 1154.5 L870.0 1153.4 L873.0 1152.3 L876.0 1151.1 L879.0 1150.0 L882.0 1148.8 L885.0 1147.6 L888.0 1146.4 L891.0 1145.1 L894.0 1143.9 L897.0 1142.6 L900.0 1141.3 L903.0 1140.0 L906.0 1138.7 L909.0 1137.4 L912.0 1136.0 L915.0 1134.6 L918.0 1133.2 L921.0 1131.8 L924.0 1130.4 L927.0 1128.9 L930.0 1127.5 L933.0 1126.0 L936.0 1124.5 L939.0 1123.1 L942.0 1121.6 L945.0 1120.2 L948.0 1118.7 L951.0 1117.3 L954.0 1115.9 L957.0 1114.6 L960.0 1113.3 L963.0 1111.9 L966.0 1110.6 L969.0 1109.3 L972.0 1108.0 L975.0 1106.7 L978.0 1105.3 L981.0 1103.9 L984.0 1102.5 L987.0 1101.1 L990.0 1099.7 L993.0 1098.3 L996.0 1096.8 L999.0 1095.4 L1002.0 1093.9 L1005.0 1092.5 L1008.0 1091.0 L1011.0 1089.6 L1014.0 1088.1 L1017.0 1086.7 L1020.0 1085.3 L1023.0 1083.8 L1026.0 1082.4 L1029.0 1080.9 L1032.0 1079.5 L1035.0 1078.1 L1038.0 1076.7 L1041.0 1075.2 L1044.0 1073.8 L1047.0 1072.4 L1050.0 1071.0 L1053.0 1069.6 L1056.0 1068.2 L1059.0 1066.8 L1062.0 1065.5 L1065.0 1064.1 L1068.0 1062.8 L1071.0 1061.4 L1074.0 1060.1 L1077.0 1058.7 L1080.0 1057.4 L1083.0 1056.1 L1086.0 1054.8 L1089.0 1053.4 L1092.0 1052.1 L1095.0 1050.8 L1098.0 1049.5 L1101.0 1048.1 L1104.0 1046.8 L1107.0 1045.4 L1110.0 1044.1 L1113.0 1042.7 L1116.0 1041.3 L1119.0 1040.0 L1122.0 1038.6 L1125.0 1037.2 L1128.0 1035.8 L1131.0 1034.4 L1134.0 1033.0 L1137.0 1031.6 L1140.0 1030.2 L1143.0 1028.8 L1146.0 1027.4 L1149.0 1026.0 L1152.0 1024.6 L1155.0 1023.1 L1158.0 1021.7 L1161.0 1020.3 L1164.0 1019.0 L1167.0 1017.6 L1170.0 1016.2 L1173.0 1014.8 L1176.0 1013.5 L1179.0 1012.1 L1182.0 1010.8 L1185.0 1009.4 L1188.0 1008.1 L1191.0 1006.7 L1194.0 1005.3 L1197.0 1003.9 L1200.0 1002.5 L1203.0 1001.1 L1206.0 999.7 L1209.0 998.2 L1212.0 996.8 L1215.0 995.3 L1218.0 993.8 L1221.0 992.3 L1224.0 990.9 L1227.0 989.4 L1230.0 987.9 L1233.0 986.5 L1236.0 985.0 L1239.0 983.6 L1242.0 982.1 L1245.0 980.7 L1248.0 979.3 L1251.0 977.9 L1254.0 976.6 L1257.0 975.2 L1260.0 973.9 L1263.0 972.5 L1266.0 971.2 L1269.0 969.9 L1272.0 968.6 L1275.0 967.3 L1278.0 966.0 L1281.0 964.7 L1284.0 963.5 L1287.0 962.3 L1290.0 961.0 L1293.0 959.8 L1296.0 958.7 L1299.0 957.5 L1302.0 956.4 L1305.0 955.3 L1308.0 954.2 L1311.0 953.1 L1314.0 952.1 L1317.0 951.0 L1320.0 950.0 L1323.0 949.0 L1326.0 948.1 L1329.0 947.1 L1332.0 946.2 L1335.0 945.3 L1338.0 944.4 L1341.0 943.5 L1344.0 942.6 L1347.0 941.8 L1350.0 941.0 L1353.0 940.2 L1356.0 939.4 L1359.0 938.7 L1362.0 938.0 L1365.0 937.3 L1368.0 936.6 L1371.0 935.9 L1374.0 935.2 L1377.0 934.6 L1380.0 933.9 L1383.0 933.3 L1386.0 932.6 L1389.0 931.9 L1392.0 931.3 L1395.0 930.6 L1398.0 929.9 L1401.0 929.3 L1404.0 928.6 L1407.0 928.0 L1410.0 927.4 L1413.0 926.8 L1416.0 926.2 L1419.0 925.7 L1422.0 925.1 L1425.0 924.6 L1428.0 924.1 L1431.0 923.6 L1434.0 923.1 L1437.0 922.6 L1440.0 922.2 L1443.0 921.7 L1446.0 921.2 L1449.0 920.8 L1452.0 920.3 L1455.0 919.9 L1458.0 919.5 L1461.0 919.0 L1464.0 918.6 L1467.0 918.1 L1470.0 917.7 L1473.0 917.2 L1476.0 916.8 L1479.0 916.3 L1482.0 915.9 L1485.0 915.5 L1488.0 915.0 L1491.0 914.6 L1494.0 914.2 L1497.0 913.7 L1500.0 913.3 L1503.0 912.9 L1506.0 912.5 L1509.0 912.0 L1512.0 911.6 L1515.0 911.1 L1518.0 910.7 L1521.0 910.2 L1524.0 909.8 L1527.0 909.3 L1530.0 908.9 L1533.0 908.4 L1536.0 907.9 L1539.0 907.4 L1542.0 907.0 L1545.0 906.5 L1548.0 906.0 L1551.0 905.5 L1554.0 905.0 L1557.0 904.4 L1560.0 903.9 L1563.0 903.4 L1566.0 902.8 L1569.0 902.2 L1572.0 901.7 L1575.0 901.1 L1578.0 900.4 L1581.0 899.8 L1584.0 899.2 L1587.0 898.5 L1590.0 897.8 L1593.0 897.1 L1596.0 896.3 L1599.0 895.6 L1602.0 894.8 L1605.0 894.0 L1608.0 893.1 L1611.0 892.3 L1614.0 891.4 L1617.0 890.5 L1620.0 889.6 L1623.0 888.7 L1626.0 887.8 L1629.0 886.8 L1632.0 885.9 L1635.0 884.9 L1638.0 883.9 L1641.0 882.9 L1644.0 881.9 L1647.0 880.9 L1650.0 880.0 L1653.0 879.0 L1656.0 878.0 L1659.0 877.1 L1662.0 876.2 L1665.0 875.3 L1668.0 874.4 L1671.0 873.5 L1674.0 872.7 L1677.0 871.9 L1680.0 871.1 L1683.0 870.3 L1686.0 869.4 L1689.0 868.6 L1692.0 867.7 L1695.0 866.8 L1698.0 865.8 L1701.0 864.7 L1704.0 863.6 L1707.0 862.5 L1710.0 861.3 L1713.0 860.0 L1716.0 858.7 L1719.0 857.3 L1722.0 855.9 L1725.0 854.4 L1728.0 852.9 L1731.0 851.3 L1734.0 849.7 L1737.0 848.0 L1740.0 846.3 L1743.0 844.5 L1746.0 842.7 L1749.0 840.8 L1752.0 838.9 L1755.0 836.9 L1758.0 834.9 L1761.0 832.9 L1764.0 830.8 L1767.0 828.7 L1770.0 826.5 L1773.0 824.3 L1776.0 822.1 L1779.0 819.8 L1782.0 817.5 L1785.0 815.1 L1788.0 812.8 L1791.0 810.4 L1794.0 808.0 L1797.0 805.5 L1800.0 803.1 L1803.0 800.6 L1806.0 798.1 L1809.0 795.5 L1811.0 793.8 L1812.0 792.9 L1813.0 792.1 L1814.0 791.2 L1815.0 790.3 L1816.0 789.4 L1817.0 788.6 L1818.0 787.7 L1819.0 786.8 L1820.0 785.9 L1821.0 785.1 L1822.0 784.3 L1823.0 783.4 L1824.0 782.6 L1825.0 781.9 L1826.0 781.2 L1827.0 780.3 L1828.0 779.4 L1829.0 778.5 L1830.0 777.5 L1831.0 776.5 L1832.0 775.4 L1833.0 774.2 L1834.0 772.9 L1835.0 771.3 L1836.0 769.5 L1837.0 767.5 L1838.0 765.1 L1839.0 762.5 L1840.0 759.8 L1841.0 756.8 L1842.0 753.8 L1843.0 750.7 L1844.0 747.4 L1845.0 744.1 L1846.0 740.6 L1847.0 737.1 L1848.0 733.5 L1849.0 729.9 L1850.0 726.3 L1851.0 722.6 L1852.0 718.9 L1853.0 715.1 L1854.0 711.2 L1855.0 707.2 L1856.0 703.1 L1857.0 698.7 L1858.0 694.2 L1859.0 689.6 L1860.0 684.8 L1861.0 680.0 L1862.0 675.2 L1863.0 670.4 L1864.0 665.6 L1865.0 660.7 L1866.0 655.9 L1867.0 651.2 L1868.0 646.4 L1869.0 641.6 L1870.0 636.7 L1871.0 631.9 L1872.0 627.0 L1873.0 622.0 L1874.0 617.0 L1875.0 611.9 L1876.0 606.7 L1877.0 601.6 L1878.0 596.4 L1879.0 591.1 L1880.0 585.9 L1881.0 580.7 L1882.0 575.5 L1883.0 570.3 L1884.0 565.1 L1885.0 559.9 L1886.0 554.7 L1887.0 549.5 L1888.0 544.4 L1889.0 539.2 L1890.0 534.1 L1891.0 529.0 L1892.0 523.9 L1893.0 518.8 L1894.0 513.7 L1895.0 508.5 L1896.0 503.2 L1897.0 497.8 L1898.0 492.3 L1899.0 486.8 L1900.0 481.1 L1901.0 475.5 L1902.0 469.9 L1903.0 464.3 L1904.0 458.8 L1905.0 453.4 L1906.0 448.2 L1907.0 443.2 L1908.0 438.4 L1909.0 433.8 L1910.0 429.5 L1911.0 425.3 L1912.0 421.5 L1913.0 417.8 L1914.0 414.4 L1915.0 411.1 L1916.0 408.0 L1917.0 405.1 L1918.0 402.4 L1919.0 399.9 L1920.0 397.6 L1921.0 395.4 L1922.0 393.5 L1923.0 391.8 L1924.0 390.2 L1925.0 388.8 L1926.0 387.5 L1927.0 386.3 L1928.0 385.2 L1929.0 384.2 L1930.0 383.3 L1931.0 382.4 L1932.0 381.6 L1933.0 380.8 L1934.0 380.0 L1935.0 379.3 L1936.0 378.7 L1937.0 378.0 L1938.0 377.4 L1939.0 376.8 L1940.0 376.3 L1941.0 375.7 L1942.0 375.2 L1943.0 374.6 L1944.0 374.1 L1945.0 373.6 L1946.0 373.1 L1947.0 372.6 L1948.0 372.1 L1949.0 371.7 L1950.0 371.2 L1951.0 370.8 L1952.0 370.3 L1953.0 369.9 L1954.0 369.5 L1955.0 369.0 L1956.0 368.6 L1957.0 368.2 L1958.0 367.8 L1959.0 367.4 L1960.0 367.1 L1961.0 366.7 L1962.0 366.4 L1963.0 366.0 L1964.0 365.7 L1965.0 365.3 L1966.0 365.0 L1967.0 364.7 L1968.0 364.5 L1969.0 364.2 L1970.0 363.9 L1971.0 363.7 L1972.0 363.4 L1973.0 363.1 L1974.0 362.9 L1975.0 362.6 L1976.0 362.4 L1977.0 362.2 L1978.0 361.9 L1979.0 361.7 L1980.0 361.4 L1983.0 360.7 L1986.0 360.0 L1989.0 359.4 L1992.0 358.8 L1995.0 358.2 L1998.0 357.6 L2001.0 357.0 L2004.0 356.4 L2007.0 355.8 L2010.0 355.3 L2013.0 354.6 L2016.0 354.0 L2019.0 353.2 L2022.0 352.4 L2025.0 351.6 L2028.0 350.6 L2031.0 349.5 L2034.0 348.4 L2037.0 347.2 L2040.0 345.8 L2043.0 344.4 L2046.0 342.9 L2049.0 341.2 L2052.0 339.4 L2055.0 337.5 L2058.0 335.4 L2061.0 333.2 L2064.0 330.8 L2067.0 328.3 L2070.0 325.6 L2073.0 322.8 L2076.0 320.0 L2079.0 317.1 L2082.0 314.3 L2085.0 311.4 L2088.0 308.7 L2091.0 305.9 L2094.0 303.3 L2097.0 300.7 L2100.0 298.1 L2103.0 295.6 L2106.0 293.1 L2109.0 290.6 L2112.0 288.1 L2115.0 285.7 L2118.0 283.2 L2121.0 280.8 L2124.0 278.4 L2127.0 276.0 L2130.0 273.6 L2133.0 271.3 L2136.0 269.0 L2139.0 266.8 L2142.0 264.6 L2145.0 262.5 L2148.0 260.4 L2151.0 258.4 L2154.0 256.4 L2157.0 254.5 L2160.0 252.6 L2163.0 250.8 L2166.0 249.0 L2169.0 247.3 L2172.0 245.6 L2175.0 243.9 L2178.0 242.3 L2181.0 240.8 L2184.0 239.2 L2187.0 237.7 L2190.0 236.2 L2193.0 234.7 L2196.0 233.3 L2199.0 231.8 L2202.0 230.4 L2205.0 229.0 L2208.0 227.7 L2211.0 226.3 L2214.0 225.0 L2217.0 223.7 L2220.0 222.4 L2223.0 221.2 L2226.0 219.9 L2229.0 218.7 L2232.0 217.5 L2235.0 216.4 L2238.0 215.2 L2241.0 214.1 L2244.0 213.0 L2247.0 211.9 L2250.0 210.8 L2253.0 209.8 L2256.0 208.7 L2259.0 207.7 L2262.0 206.8 L2265.0 205.8 L2268.0 204.9 L2271.0 204.0 L2274.0 203.2 L2277.0 202.3 L2280.0 201.5 L2283.0 200.8 L2286.0 200.0 L2289.0 199.3 L2292.0 198.6 L2295.0 198.0 L2298.0 197.4 L2301.0 196.8 L2304.0 196.3 L2307.0 195.8 L2310.0 195.3 L2313.0 194.9 L2316.0 194.4 L2319.0 194.0 L2322.0 193.6 L2322.5 193.5" stroke="#1766e0"/>
</g>
<g font-size="71">
<g text-anchor="end">
<text x="259" y="1702.8">0</text>
<text x="259" y="1469.3">100</text>
<text x="259" y="1235.7">200</text>
<text x="259" y="1002.2">300</text>
<text x="259" y="768.6">400</text>
<text x="259" y="535.1">500</text>
<text x="259" y="301.5">600</text>
<text x="259" y="68.0">700</text>
</g><g text-anchor="middle">
<text x="294.0" y="1751">300</text>
<text x="699.6" y="1751">320</text>
<text x="1105.2" y="1751">340</text>
<text x="1510.8" y="1751">360</text>
<text x="1916.4" y="1751">380</text>
<text x="2322.0" y="1751">400</text>
</g></g>
<text x="1308.5" y="1843" font-size="92" text-anchor="middle">Wavelength(nm)</text>
<text transform="translate(115.2 1452.0) rotate(-90)" font-size="92"><tspan x="0.0" y="0">Spectral irradiance(</tspan><tspan x="719.3" y="0">w·m</tspan><tspan x="884.1" y="-35.0" font-size="63">−2</tspan><tspan x="950.3" y="0">·um</tspan><tspan x="1094.7" y="-35.0" font-size="63">−1</tspan><tspan x="1158.4" y="0">)</tspan></text>
<rect x="348.4" y="60.3" width="1142.6" height="376.2" fill="#fff" stroke="#626262" stroke-width="2.9"/>
<g stroke-width="8" stroke-linecap="butt" fill="none">
<line x1="357.6" y1="131.5" x2="554.2" y2="131.5" stroke="#ff0000"/>
<line x1="357.6" y1="253.3" x2="554.2" y2="253.3" stroke="#00ff00"/>
<line x1="357.6" y1="375.2" x2="554.2" y2="375.2" stroke="#1766e0"/>
</g>
<g font-size="93">
<text x="574.8" y="160">500nm Cloud O.D.=100</text>
<text x="574.8" y="282">500nm Cloud O.D.=30</text>
<text x="574.8" y="403">500nm Cloud O.D.=10</text>
</g>
</svg></body></html>
